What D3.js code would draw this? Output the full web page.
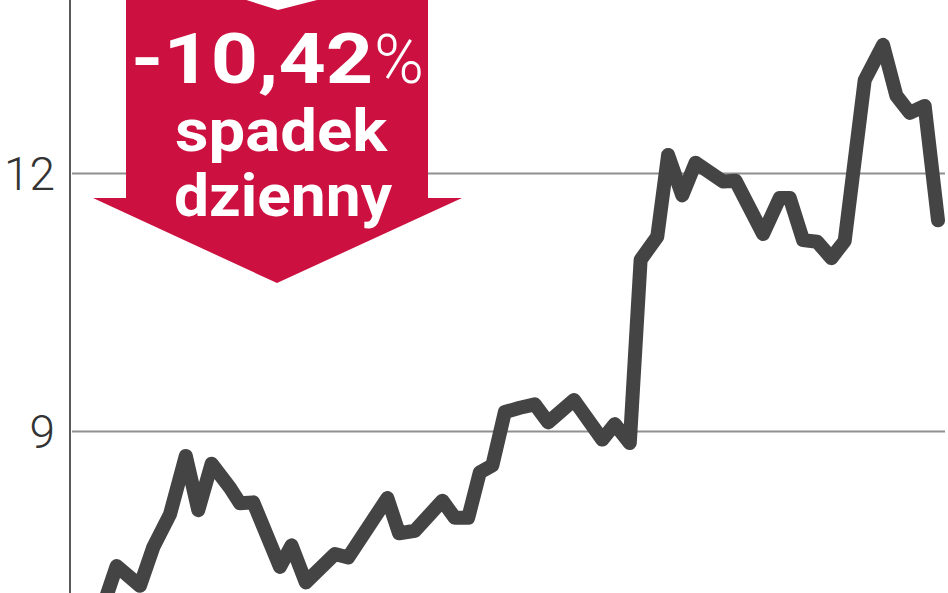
<!DOCTYPE html>
<html>
<head>
<meta charset="utf-8">
<script src="https://cdn.jsdelivr.net/npm/d3@7"></script>
<style>
  body { margin: 0; background: #fff; }
  svg { display: block; }
</style>
</head>
<body>
<div id="chart"></div>
<script>
// notowania - pozycja w sesjach i kurs (zl)
var sesje = [0, 1.4, 4.2, 5.8, 7.8, 9.7, 11.2, 12.8, 15.0, 16.2, 17.8, 21.0, 22.4, 24.1,
    27.6, 29.2, 33.9, 35.3, 37.2, 40.5, 42.0, 43.6, 45.0, 46.5, 48.0, 49.8, 51.6, 53.2,
    56.3, 59.7, 61.2, 63.0, 64.3, 66.3, 67.6, 69.3, 70.9, 74.2, 75.7, 79.0, 81.0, 82.2,
    83.8, 85.5, 87.2, 88.8, 91.2, 93.4, 95.0, 96.6, 98.4, 100];
var kurs = [7.03, 7.43, 7.20, 7.65, 8.03, 8.71, 8.08, 8.62, 8.34, 8.16, 8.17, 7.42, 7.67, 7.24,
    7.57, 7.53, 8.22, 7.81, 7.84, 8.19, 7.99, 7.99, 8.52, 8.60, 9.22, 9.27, 9.31, 9.10,
    9.36, 8.90, 9.08, 8.86, 10.99, 11.26, 12.21, 11.74, 12.12, 11.90, 11.91, 11.29, 11.71, 11.71,
    11.22, 11.20, 11.01, 11.21, 13.08, 13.49, 12.90, 12.70, 12.78, 11.45];
var yTicks = [9, 12];
var zmiana = "-10,42";
var opis = ["spadek", "dzienny"];

var width = 948,
    height = 593;

var data = sesje.map(function (d, i) {
    return { s: d, v: kurs[i] };
});

var svg = d3.select("#chart")
    .append("svg")
    .attr("width", width)
    .attr("height", height);

var x = d3.scaleLinear()
    .domain([0, 100])
    .range([105, 938]);

var y = d3.scaleLinear()
    .domain([9, 12])
    .range([431, 173]);

// gridlines
var grid = svg.append("g")
    .attr("transform", "translate(72,0)")
    .call(d3.axisLeft(y).tickValues(yTicks).tickSize(-873).tickFormat(""));
grid.select(".domain").remove();
grid.selectAll("line")
    .attr("stroke", "#8f8f8f")
    .attr("stroke-width", 2);

// vertical axis line
svg.append("line")
    .attr("x1", 70).attr("x2", 70)
    .attr("y1", 0).attr("y2", height)
    .attr("stroke", "#5a5a5a")
    .attr("stroke-width", 2);

// tick labels
var labels = svg.append("g")
    .attr("transform", "translate(55,0)")
    .call(d3.axisLeft(y).tickValues(yTicks).tickSize(0).tickPadding(0).tickFormat(d3.format("d")));
labels.select(".domain").remove();
labels.selectAll("text")
    .attr("font-family", "Roboto, sans-serif")
    .attr("font-weight", 300)
    .attr("font-size", 46)
    .attr("fill", "#333")
    .attr("x", 0)
    .attr("dy", "0.36em")
    .attr("text-anchor", "end");

// price line
svg.append("path")
    .datum(data)
    .attr("fill", "none")
    .attr("stroke", "#444444")
    .attr("stroke-width", 14)
    .attr("stroke-linejoin", "round")
    .attr("stroke-linecap", "round")
    .attr("d", d3.line()
        .x(function (d) { return x(d.s); })
        .y(function (d) { return y(d.v); })
    );

// red arrow annotation
var arrow = svg.append("g");
arrow.append("path")
    .attr("d", "M126,-2 L240,-2 L278,10 L325,-2 L428,-2 L428,198 L462,198 L277,283 L93,198 L126,198 Z")
    .attr("fill", "#cc1040");

arrow.append("text")
    .attr("x", 131)
    .attr("y", 83)
    .attr("font-family", "Roboto, sans-serif")
    .attr("font-weight", 700)
    .attr("font-size", 70)
    .attr("fill", "#fff")
    .attr("textLength", 242)
    .attr("lengthAdjust", "spacingAndGlyphs")
    .text(zmiana);
arrow.append("text")
    .attr("x", 374)
    .attr("y", 83)
    .attr("font-family", "Roboto, sans-serif")
    .attr("font-weight", 300)
    .attr("font-size", 68)
    .attr("fill", "#fff")
    .attr("textLength", 50)
    .attr("lengthAdjust", "spacingAndGlyphs")
    .text("%");

arrow.append("text")
    .attr("x", 175)
    .attr("y", 151)
    .attr("font-family", "Roboto, sans-serif")
    .attr("font-weight", 700)
    .attr("font-size", 59)
    .attr("fill", "#fff")
    .attr("textLength", 212)
    .attr("lengthAdjust", "spacingAndGlyphs")
    .text(opis[0]);
arrow.append("text")
    .attr("x", 174)
    .attr("y", 216)
    .attr("font-family", "Roboto, sans-serif")
    .attr("font-weight", 700)
    .attr("font-size", 59)
    .attr("fill", "#fff")
    .attr("textLength", 218)
    .attr("lengthAdjust", "spacingAndGlyphs")
    .text(opis[1]);
</script>
</body>
</html>
